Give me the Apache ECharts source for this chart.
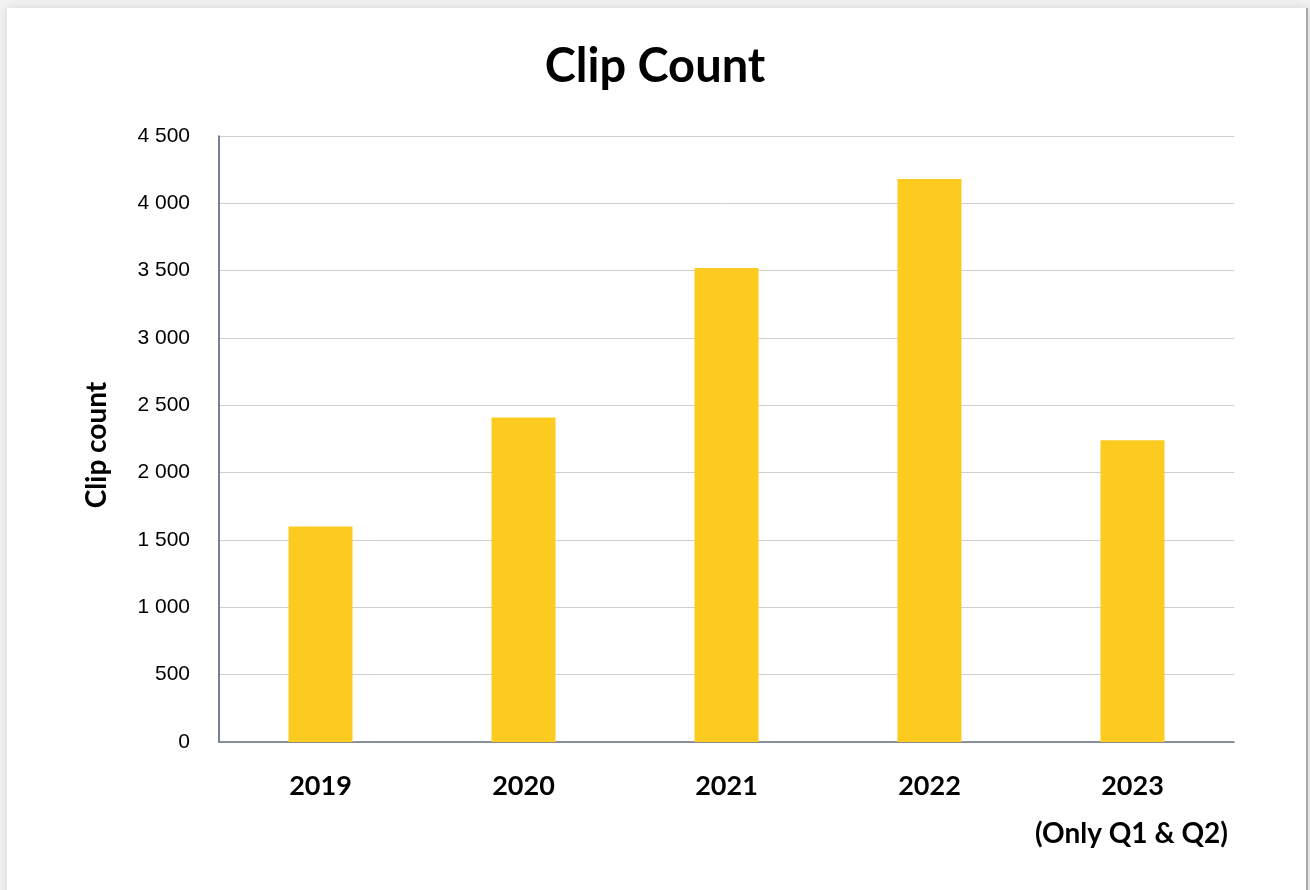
<!DOCTYPE html>
<html>
<head>
<meta charset="utf-8">
<script src="https://cdn.jsdelivr.net/npm/echarts@6/dist/echarts.min.js"></script>
<style>
  html, body { margin:0; padding:0; width:1310px; height:890px; overflow:hidden; background:#f2f2f2; }
  #card { position:absolute; left:7px; top:8px; width:1299px; height:900px; background:#fff;
          box-shadow:0 0 10px rgba(0,0,0,0.12); border-right:2px solid #a8a8a8; }
  #chart { position:absolute; left:0; top:0; width:1310px; height:890px; }
</style>
</head>
<body>
<div id="card"></div>
<div id="chart"></div>
<script>
const categories = ['2019', '2020', '2021', '2022', '2023'];
const clipCounts = [1600, 2410, 3520, 4180, 2240];
const yTicks = { min: 0, max: 4500, interval: 500 };
const titleText = 'Clip Count';
const yAxisTitle = 'Clip count';
const footnote = '(Only Q1 & Q2)';

const chart = echarts.init(document.getElementById('chart'), null, { renderer: 'canvas' });
chart.setOption({
  backgroundColor: 'transparent',
  animation: false,
  title: {
    text: titleText,
    left: 'center',
    top: 38,
    textStyle: { fontFamily: 'Lato', fontWeight: 'bold', fontSize: 47, color: '#000' }
  },
  grid: { left: 219, right: 76, top: 136, bottom: 148, containLabel: false },
  xAxis: {
    type: 'category',
    data: categories,
    axisLine: { lineStyle: { color: '#6b7385', width: 1.5 } },
    axisTick: { show: false },
    axisLabel: { margin: 31, fontFamily: 'Lato', fontWeight: 'bold', fontSize: 27, color: '#000' }
  },
  yAxis: {
    type: 'value',
    min: yTicks.min, max: yTicks.max, interval: yTicks.interval,
    name: yAxisTitle,
    nameLocation: 'middle',
    nameGap: 108,
    nameTextStyle: { fontFamily: 'Lato', fontWeight: 'bold', fontSize: 28, color: '#000', padding: [0, 12, 0, 0] },
    axisLine: { show: true, lineStyle: { color: '#4a5675', width: 1.5 } },
    axisTick: { show: false },
    splitLine: { lineStyle: { color: '#cfcfcf', width: 1 } },
    axisLabel: {
      margin: 29, fontFamily: 'Liberation Sans', fontSize: 21, color: '#000',
      formatter: v => String(v).replace(/\B(?=(\d{3})+(?!\d))/g, ' ')
    }
  },
  series: [{
    type: 'bar',
    data: clipCounts,
    barWidth: 64,
    itemStyle: { color: '#FDCA20' }
  }],
  graphic: [{
    type: 'text',
    right: 82,
    top: 820,
    style: { text: footnote, fontFamily: 'Lato', fontWeight: 'bold', fontSize: 28, fill: '#000' }
  }]
});
</script>
</body>
</html>
